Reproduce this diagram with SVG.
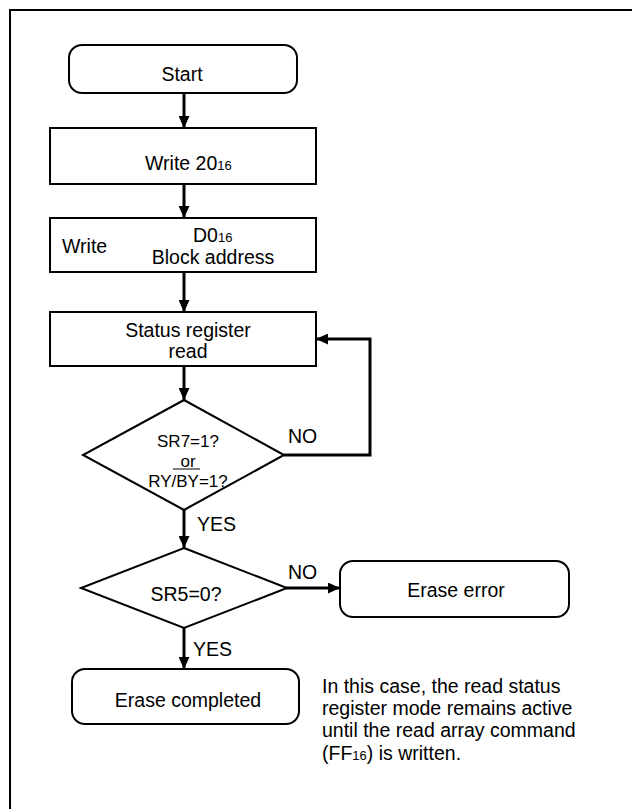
<svg xmlns="http://www.w3.org/2000/svg" width="632" height="809" viewBox="0 0 632 809">
<defs>
<style>
text{font-family:"Liberation Sans",Arial,sans-serif;font-size:19.5px;fill:#000}
.m{text-anchor:middle}
.d{font-size:17px}
.sub{font-size:13px}
.box{fill:#fff;stroke:#000;stroke-width:2}
.con{fill:none;stroke:#000;stroke-width:3}
</style>
<marker id="ah" viewBox="0 0 12 11" refX="12" refY="5.5" markerWidth="12" markerHeight="11" markerUnits="userSpaceOnUse" orient="auto">
<path d="M0,0 L12,5.5 L0,11 z" fill="#000"/>
</marker>
</defs>
<rect width="632" height="809" fill="#fff"/>
<path d="M10,830 V10 H650" fill="none" stroke="#000" stroke-width="2"/>
<g id="connectors">
<path class="con" d="M184,93 V128" marker-end="url(#ah)"/>
<path class="con" d="M184,184 V218" marker-end="url(#ah)"/>
<path class="con" d="M184,272 V312" marker-end="url(#ah)"/>
<path class="con" d="M184,366 V400" marker-end="url(#ah)"/>
<path class="con" d="M284,455 H370 V339 H316" marker-end="url(#ah)"/>
<path class="con" d="M184,510 V548" marker-end="url(#ah)"/>
<path class="con" d="M286,588 H340" marker-end="url(#ah)"/>
<path class="con" d="M184,628 V669" marker-end="url(#ah)"/>
<text x="288" y="443">NO</text>
<text x="197" y="531">YES</text>
<text x="288" y="579">NO</text>
<text x="193" y="656">YES</text>
</g>
<g id="start">
<rect class="box" x="69" y="45" width="228" height="48" rx="13"/>
<text class="m" x="182" y="81">Start</text>
</g>
<g id="write20">
<rect class="box" x="50" y="128" width="266" height="56"/>
<text x="145" y="170">Write 20<tspan class="sub">16</tspan></text>
</g>
<g id="writeD0">
<rect class="box" x="50" y="218" width="266" height="54"/>
<text x="62" y="253">Write</text>
<text x="193" y="242">D0<tspan class="sub">16</tspan></text>
<text class="m" x="213" y="264">Block address</text>
</g>
<g id="status">
<rect class="box" x="50" y="312" width="266" height="54"/>
<text class="m" x="188" y="337">Status register</text>
<text class="m" x="188" y="358">read</text>
</g>
<g id="decision1">
<polygon class="box" points="184,400 284,455 184,510 83,455"/>
<text class="m d" x="188" y="447">SR7=1?</text>
<text class="m d" x="188" y="467">or</text>
<line x1="173" y1="469" x2="200" y2="469" stroke="#000" stroke-width="1"/>
<text class="m d" x="188" y="487">RY/BY=1?</text>
</g>
<g id="decision2">
<polygon class="box" points="184,548 287,588 184,628 81,588"/>
<text class="m" x="186" y="601">SR5=0?</text>
</g>
<g id="erase-error">
<rect class="box" x="340" y="561" width="229" height="56" rx="13"/>
<text class="m" x="456" y="597">Erase error</text>
</g>
<g id="erase-completed">
<rect class="box" x="72" y="669" width="227" height="55" rx="13"/>
<text class="m" x="188" y="707">Erase completed</text>
</g>
<g id="note">
<text x="322" y="693">In this case, the read status</text>
<text x="322" y="715">register mode remains active</text>
<text x="322" y="737">until the read array command</text>
<text x="322" y="760">(FF<tspan class="sub">16</tspan>) is written.</text>
</g>
</svg>
